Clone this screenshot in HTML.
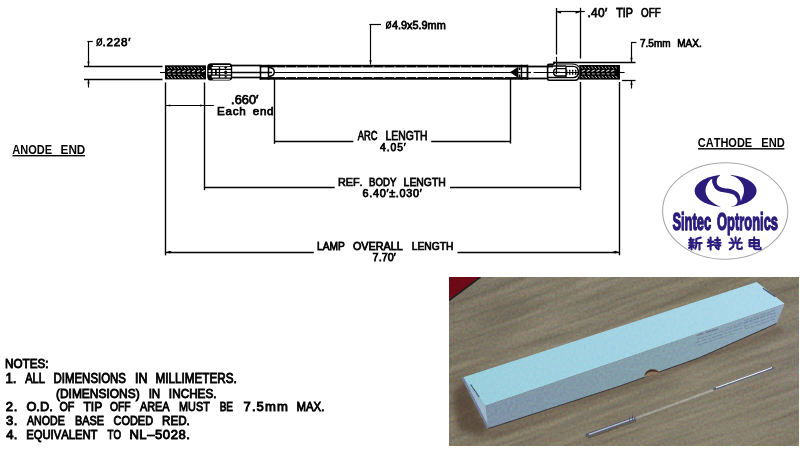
<!DOCTYPE html>
<html><head><meta charset="utf-8"><style>
html,body{margin:0;padding:0;background:#fff;}
body{width:800px;height:449px;overflow:hidden;}
svg{display:block;}
text{font-kerning:none;}
.t,.tb,.tn{font-family:"Liberation Sans",sans-serif;fill:#000;}
.t{stroke:#000;stroke-width:0.75px;}
.tb{font-weight:bold;}
.tn{stroke:#000;stroke-width:0.9px;}
.logo{font-family:"Liberation Sans",sans-serif;font-weight:bold;fill:#2b1b7b;stroke:#2b1b7b;stroke-width:1.4px;stroke-linejoin:round;}
.ar{fill:#000;stroke:none;}
</style></head><body>
<svg width="800" height="449" viewBox="0 0 800 449">
<defs>
<clipPath id="pc"><rect x="449" y="277" width="350" height="169"/></clipPath>

<linearGradient id="wood" gradientUnits="userSpaceOnUse" x1="470" y1="270" x2="560" y2="480">
<stop offset="0" stop-color="#756e61"/><stop offset="0.45" stop-color="#7e7664"/><stop offset="1" stop-color="#817865"/>
</linearGradient>
<radialGradient id="wlight" gradientUnits="userSpaceOnUse" cx="720" cy="420" r="110">
<stop offset="0" stop-color="#8b8676" stop-opacity="0.6"/><stop offset="1" stop-color="#8b8676" stop-opacity="0"/>
</radialGradient>
<radialGradient id="wlight2" gradientUnits="userSpaceOnUse" cx="590" cy="300" r="90">
<stop offset="0" stop-color="#8c8676" stop-opacity="0.6"/><stop offset="1" stop-color="#8c8676" stop-opacity="0"/>
</radialGradient>
<linearGradient id="btop" gradientUnits="userSpaceOnUse" x1="470" y1="390" x2="780" y2="290">
<stop offset="0" stop-color="#9acfdc"/><stop offset="0.5" stop-color="#a2d3e3"/><stop offset="1" stop-color="#aedaea"/>
</linearGradient>
<linearGradient id="bfront" gradientUnits="userSpaceOnUse" x1="490" y1="420" x2="780" y2="315">
<stop offset="0" stop-color="#7e92a6"/><stop offset="0.55" stop-color="#84a0aa"/><stop offset="1" stop-color="#8ea8bc"/>
</linearGradient>
<radialGradient id="wright" gradientUnits="userSpaceOnUse" cx="805" cy="360" r="90">
<stop offset="0" stop-color="#827a70" stop-opacity="0.85"/><stop offset="1" stop-color="#827a70" stop-opacity="0"/>
</radialGradient>
<filter id="noise2" x="0" y="0" width="100%" height="100%" color-interpolation-filters="sRGB">
<feTurbulence type="fractalNoise" baseFrequency="0.38" numOctaves="2" seed="9"/>
<feColorMatrix type="matrix" values="1.3 0 0 0 -0.15  0 1.3 0 0 -0.15  0 0 1.3 0 -0.15  0 0 0 0 1"/>
</filter>
<filter id="grain" x="0" y="0" width="100%" height="100%" color-interpolation-filters="sRGB">
<feTurbulence type="fractalNoise" baseFrequency="0.012 0.2" numOctaves="3" seed="4"/>
<feColorMatrix type="matrix" values="1.3 0 0 0 -0.15  1.3 0 0 0 -0.15  1.3 0 0 0 -0.15  0 0 0 0 1"/>
</filter>
<filter id="bl"><feGaussianBlur stdDeviation="3"/></filter>
<filter id="bl1"><feGaussianBlur stdDeviation="0.6"/></filter>
<filter id="bl2"><feGaussianBlur stdDeviation="1.2"/></filter>

</defs>
<g opacity="0.999">
<g class="dw" stroke="#000" fill="none" stroke-linecap="butt">
<line x1="88.5" y1="41.5" x2="88.5" y2="66" stroke-width="1.2" />
<line x1="87.4" y1="41.5" x2="92.8" y2="41.5" stroke-width="1.2" />
<line x1="88.5" y1="79" x2="88.5" y2="87.5" stroke-width="1.2" />
<line x1="84" y1="66.5" x2="162.5" y2="66.5" stroke-width="1.3" />
<line x1="84" y1="79.5" x2="162.5" y2="79.5" stroke-width="1.3" />
<line x1="160" y1="72.5" x2="165" y2="72.5" stroke-width="1.1" />
<line x1="370.5" y1="24" x2="370.5" y2="64.5" stroke-width="1.2" />
<line x1="369.4" y1="24.5" x2="381" y2="24.5" stroke-width="1.2" />
<rect x="259.8" y="64.8" width="268.2" height="2.6" fill="#000" stroke="none"/>
<rect x="259.8" y="77.1" width="268.2" height="2.6" fill="#000" stroke="none"/>
<line x1="275" y1="72.5" x2="510" y2="72.5" stroke-width="1.1" />
<path d="M285,66.6 h1.2 v1 h-1.2 Z M285,77 h1.2 v1 h-1.2 Z M295.93,66.6 h1.2 v1 h-1.2 Z M295.93,77 h1.2 v1 h-1.2 Z M306.86,66.6 h1.2 v1 h-1.2 Z M306.86,77 h1.2 v1 h-1.2 Z M317.79,66.6 h1.2 v1 h-1.2 Z M317.79,77 h1.2 v1 h-1.2 Z M328.72,66.6 h1.2 v1 h-1.2 Z M328.72,77 h1.2 v1 h-1.2 Z M339.65,66.6 h1.2 v1 h-1.2 Z M339.65,77 h1.2 v1 h-1.2 Z M350.58,66.6 h1.2 v1 h-1.2 Z M350.58,77 h1.2 v1 h-1.2 Z M361.51,66.6 h1.2 v1 h-1.2 Z M361.51,77 h1.2 v1 h-1.2 Z M372.44,66.6 h1.2 v1 h-1.2 Z M372.44,77 h1.2 v1 h-1.2 Z M383.37,66.6 h1.2 v1 h-1.2 Z M383.37,77 h1.2 v1 h-1.2 Z M394.3,66.6 h1.2 v1 h-1.2 Z M394.3,77 h1.2 v1 h-1.2 Z M405.23,66.6 h1.2 v1 h-1.2 Z M405.23,77 h1.2 v1 h-1.2 Z M416.16,66.6 h1.2 v1 h-1.2 Z M416.16,77 h1.2 v1 h-1.2 Z M427.09,66.6 h1.2 v1 h-1.2 Z M427.09,77 h1.2 v1 h-1.2 Z M438.02,66.6 h1.2 v1 h-1.2 Z M438.02,77 h1.2 v1 h-1.2 Z M448.95,66.6 h1.2 v1 h-1.2 Z M448.95,77 h1.2 v1 h-1.2 Z M459.88,66.6 h1.2 v1 h-1.2 Z M459.88,77 h1.2 v1 h-1.2 Z M470.81,66.6 h1.2 v1 h-1.2 Z M470.81,77 h1.2 v1 h-1.2 Z M481.74,66.6 h1.2 v1 h-1.2 Z M481.74,77 h1.2 v1 h-1.2 Z M492.67,66.6 h1.2 v1 h-1.2 Z M492.67,77 h1.2 v1 h-1.2 Z M503.6,66.6 h1.2 v1 h-1.2 Z M503.6,77 h1.2 v1 h-1.2 Z" fill="#fff" stroke="none"/>
<line x1="232" y1="65.5" x2="260" y2="65.5" stroke-width="1.7" />
<line x1="232" y1="72.5" x2="272" y2="72.5" stroke-width="1.3" />
<line x1="232" y1="77.5" x2="260" y2="77.5" stroke-width="1.7" />
<line x1="260.5" y1="64.8" x2="260.5" y2="79.7" stroke-width="1.6" />
<line x1="268.5" y1="64.8" x2="268.5" y2="79.7" stroke-width="1.5" />
<path d="M268.4,67.6 C272.3,67.6 274.3,69.6 274.3,72.1 C274.3,74.6 272.3,76.4 268.4,76.4" stroke-width="1.5"/>
<path d="M275.2,67.4 L277.5,67.4 L276,69 Z M275.2,77.1 L277.5,77.1 L276,75.6 Z" fill="#fff" stroke="none"/>
<path d="M510,72.3 L518.4,66.8 L518.4,77.9 Z" fill="#000" stroke="none"/>
<path d="M519.6,67.6 v2.4 M519.6,74.4 v2.6" stroke-width="1.6"/>
<line x1="521.5" y1="64.8" x2="521.5" y2="79.7" stroke-width="1.4" />
<line x1="527.5" y1="64.8" x2="527.5" y2="79.7" stroke-width="1.8" />
<line x1="510" y1="72.5" x2="531" y2="72.5" stroke-width="1.2" />
<line x1="527.5" y1="66.5" x2="553" y2="66.5" stroke-width="1.8" />
<line x1="533.5" y1="72.5" x2="578" y2="72.5" stroke-width="1.2" />
<line x1="527.5" y1="78.5" x2="548" y2="78.5" stroke-width="1.8" />
<line x1="553" y1="62.5" x2="635.5" y2="62.5" stroke-width="1.3" />
<line x1="622" y1="80.5" x2="635.5" y2="80.5" stroke-width="1.3" />
<line x1="631.5" y1="42.6" x2="631.5" y2="62.2" stroke-width="1.2" />
<line x1="631" y1="42.5" x2="636.4" y2="42.5" stroke-width="1.2" />
<line x1="631.5" y1="80.3" x2="631.5" y2="88.5" stroke-width="1.2" />
</g>
<rect x="165" y="65.3" width="41" height="14.1" fill="#000"/>
<path d="M167,67.2l1.7,1.5M170.4,67.2l1.7,1.5M173.8,67.2l1.7,1.5M177.2,67.2l1.7,1.5M180.6,67.2l1.7,1.5M184,67.2l1.7,1.5M187.4,67.2l1.7,1.5M190.8,67.2l1.7,1.5M194.2,67.2l1.7,1.5M197.6,67.2l1.7,1.5M201,67.2l1.7,1.5M167,76.4l2.2,1.7M170.4,76.4l2.2,1.7M173.8,76.4l2.2,1.7M177.2,76.4l2.2,1.7M180.6,76.4l2.2,1.7M184,76.4l2.2,1.7M187.4,76.4l2.2,1.7M190.8,76.4l2.2,1.7M194.2,76.4l2.2,1.7M197.6,76.4l2.2,1.7M201,76.4l2.2,1.7" stroke="#fff" stroke-width="0.9" stroke-opacity="0.9" fill="none"/>
<path d="M167.6,71.8l3,-1.4M172.5,71.8l3,-1.4M177.4,71.8l3,-1.4M182.3,71.8l3,-1.4M187.2,71.8l3,-1.4M192.1,71.8l3,-1.4M197,71.8l3,-1.4M201.9,71.8l3,-1.4" stroke="#fff" stroke-width="1.1" stroke-opacity="0.9" fill="none"/>
<path d="M168,74.2h2.8M172.9,74.2h2.8M177.8,74.2h2.8M182.7,74.2h2.8M187.6,74.2h2.8M192.5,74.2h2.8M197.4,74.2h2.8" stroke="#fff" stroke-width="1.0" stroke-opacity="0.75" fill="none"/>
<rect x="579.2" y="65" width="40.8" height="14.6" fill="#000"/>
<path d="M581.2,66.9l1.7,1.5M584.6,66.9l1.7,1.5M588,66.9l1.7,1.5M591.4,66.9l1.7,1.5M594.8,66.9l1.7,1.5M598.2,66.9l1.7,1.5M601.6,66.9l1.7,1.5M605,66.9l1.7,1.5M608.4,66.9l1.7,1.5M611.8,66.9l1.7,1.5M615.2,66.9l1.7,1.5M581.2,76.1l2.2,1.7M584.6,76.1l2.2,1.7M588,76.1l2.2,1.7M591.4,76.1l2.2,1.7M594.8,76.1l2.2,1.7M598.2,76.1l2.2,1.7M601.6,76.1l2.2,1.7M605,76.1l2.2,1.7M608.4,76.1l2.2,1.7M611.8,76.1l2.2,1.7M615.2,76.1l2.2,1.7" stroke="#fff" stroke-width="0.9" stroke-opacity="0.9" fill="none"/>
<path d="M581.8,71.5l3,-1.4M586.7,71.5l3,-1.4M591.6,71.5l3,-1.4M596.5,71.5l3,-1.4M601.4,71.5l3,-1.4M606.3,71.5l3,-1.4M611.2,71.5l3,-1.4" stroke="#fff" stroke-width="1.1" stroke-opacity="0.9" fill="none"/>
<path d="M582.2,73.9h2.8M587.1,73.9h2.8M592,73.9h2.8M596.9,73.9h2.8M601.8,73.9h2.8M606.7,73.9h2.8M611.6,73.9h2.8" stroke="#fff" stroke-width="1.0" stroke-opacity="0.75" fill="none"/>
<g stroke="#000" fill="none">
<line x1="620" y1="72.5" x2="624.6" y2="72.5" stroke-width="1.1" />
</g>
<path d="M211.4,63.3 L229,63.3 Q232.2,63.3 232.2,66.5 L232.2,77.3 Q232.2,80.6 229,80.6 L211.4,80.6 Q207.2,80.6 207.2,76.4 L207.2,67.5 Q207.2,63.3 211.4,63.3 Z" fill="#000"/>
<path d="M212.8,64.9H229.9V66.2H212.8ZM212.8,78.7H229.9V79.8H212.8ZM211.7,67.1H218.8V68.7H211.7ZM220.1,67.1H230.8V68.7H220.1ZM211.7,75.8H218.8V77.4H211.7ZM220.1,75.8H230.8V77.4H220.1ZM208.6,70H210.8V72H208.6ZM208.6,72.9H210.8V74.5H208.6ZM212.6,70H215V72H212.6ZM212.6,72.9H215V74.5H212.6ZM216.8,70H218.8V72H216.8ZM216.8,72.9H218.8V74.5H216.8ZM220.1,70H230.8V72H220.1ZM220.1,72.9H230.8V74.5H220.1Z" fill="#fff"/>
<path d="M223.9,67.1 L227.5,67.1 L225.7,69 Z M223.9,72 L227.5,72 L225.7,70.3 Z M223.9,72.9 L227.5,72.9 L225.7,74.6 Z M223.9,77.4 L227.5,77.4 L225.7,75.6 Z" fill="#000"/>
<g fill="none" stroke="#000">
<path d="M555.4,62.1 L553.3,64.2 L549,64.2 Q547.6,64.2 547.6,65.8 L547.6,78.8 Q547.6,80.3 549.2,80.3 L575,80.3 Q578.6,80.3 578.8,76.5" stroke-width="1.6"/>
<path d="M556,64 L572,64 Q577.6,64.2 578.8,67.2" stroke-width="1.2"/>
<path d="M547.6,65.9 L566,65.9 M547.6,77.6 L566,77.6" stroke-width="1.5"/>
<path d="M566,68.6 L557.2,68.6 Q553.6,68.6 553.6,72.3 Q553.6,76 557.2,76 L566,76" stroke-width="1.4"/>
<path d="M566,66.4 L573,66.4 Q578.3,66.4 578.3,72 Q578.3,77.6 573,77.6 L566,77.6 M566,66.4 V77.6" stroke-width="1.4"/>
<path d="M566,70.7 H579 M566,73.9 H579" stroke-width="1.9" stroke-dasharray="1.4,1.6"/>
<path d="M556.4,70.6 V74.2 M554.8,72.3 H560" stroke-width="1.2"/>
</g>
<g>
</g>
<g stroke="#000" fill="none">
<line x1="556.5" y1="8" x2="556.5" y2="54.5" stroke-width="1.3" />
<line x1="556.5" y1="56.8" x2="556.5" y2="71" stroke-width="1.2" />
<line x1="580.5" y1="7.8" x2="580.5" y2="58.5" stroke-width="1.3" />
<line x1="556.3" y1="11.5" x2="584.8" y2="11.5" stroke-width="1.2" />
<line x1="165.5" y1="82.5" x2="165.5" y2="255.4" stroke-width="1.4" />
<line x1="204.5" y1="82.5" x2="204.5" y2="190.2" stroke-width="1.4" />
<line x1="165.8" y1="105.5" x2="213.8" y2="105.5" stroke-width="1.2" />
<line x1="274.5" y1="79" x2="274.5" y2="143.8" stroke-width="1.4" />
<line x1="510.5" y1="79" x2="510.5" y2="143.6" stroke-width="1.4" />
<line x1="274.8" y1="141.5" x2="353.4" y2="141.5" stroke-width="1.6" />
<line x1="431.2" y1="141.5" x2="510" y2="141.5" stroke-width="1.6" />
<line x1="580.5" y1="82" x2="580.5" y2="190.2" stroke-width="1.4" />
<line x1="204.6" y1="187.5" x2="334.7" y2="187.5" stroke-width="1.7" />
<line x1="450" y1="187.5" x2="580" y2="187.5" stroke-width="1.7" />
<line x1="619.5" y1="82" x2="619.5" y2="255.3" stroke-width="1.4" />
<line x1="165.8" y1="252.5" x2="313.8" y2="252.5" stroke-width="1.6" />
<line x1="457.5" y1="252.5" x2="619.4" y2="252.5" stroke-width="1.6" />
</g>
<path class="ar" d="M88.5,66 L87.4,61.5 L89.6,61.5 Z"/>
<path class="ar" d="M88.5,79 L89.6,83.5 L87.4,83.5 Z"/>
<path class="ar" d="M370.5,64.8 L369.4,60.3 L371.6,60.3 Z"/>
<path class="ar" d="M631.5,62.2 L630.4,57.7 L632.6,57.7 Z"/>
<path class="ar" d="M631.5,80.3 L632.6,84.8 L630.4,84.8 Z"/>
<path class="ar" d="M556.6,12.5 L561.1,11.4 L561.1,13.6 Z"/>
<path class="ar" d="M580,12.5 L575.5,13.6 L575.5,11.4 Z"/>
<path class="ar" d="M165.8,105.5 L170.3,104.4 L170.3,106.6 Z"/>
<path class="ar" d="M204.6,105.5 L200.1,106.6 L200.1,104.4 Z"/>
<path d="M166.8,252.1 L169.6,250.8 L172.2,252.1 L169.6,253.4 Z M618.4,252.1 L615.4,250.8 L612.6,252.1 L615.4,253.4 Z" fill="#000"/>
<ellipse cx="99.3" cy="42.1" rx="2.3" ry="3.2" fill="none" stroke="#000" stroke-width="1.3"/>
<line x1="96.5" y1="46.2" x2="102.1" y2="38" stroke="#000" stroke-width="1.2"/>
<text class="t" x="102.41" y="46" style="font-size:11.63px;letter-spacing:0.805px">.228′</text>
<ellipse cx="388.55" cy="24.95" rx="2.05" ry="3.05" fill="none" stroke="#000" stroke-width="1.3"/>
<line x1="386" y1="28.9" x2="391.1" y2="21" stroke="#000" stroke-width="1.2"/>
<text class="t" transform="translate(391.93,28.7) scale(0.9849,1)" style="font-size:11.05px">4.9x5.9mm</text>
<text class="t" x="587.39" y="16.6" style="font-size:11.92px;letter-spacing:0.354px">.40′</text>
<text class="t" transform="translate(616.23,16.6) scale(0.9011,1)" style="font-size:11.92px">TIP</text>
<text class="t" transform="translate(641.11,16.6) scale(0.8249,1)" style="font-size:11.92px">OFF</text>
<text class="t" transform="translate(640.06,46.8) scale(0.8779,1)" style="font-size:11.34px">7.5mm</text>
<text class="t" transform="translate(677.25,46.8) scale(0.8854,1)" style="font-size:11.34px">MAX.</text>
<text class="t" x="231.11" y="104" style="font-size:12.79px;letter-spacing:0.017px">.660′</text>
<text class="t" x="217.12" y="115" style="font-size:11.63px;letter-spacing:0.719px">Each</text>
<text class="t" x="252.78" y="115" style="font-size:11.63px;letter-spacing:0.696px">end</text>
<text class="t" transform="translate(357.66,139.7) scale(0.7691,1)" style="font-size:12.21px">ARC</text>
<text class="t" transform="translate(385.42,139.7) scale(0.8532,1)" style="font-size:12.21px">LENGTH</text>
<text class="t" x="379.94" y="151" style="font-size:10.32px;letter-spacing:0.966px">4.05′</text>
<text class="t" transform="translate(337.89,185.6) scale(0.9474,1)" style="font-size:11.41px">REF.</text>
<text class="t" transform="translate(368.98,185.6) scale(0.8492,1)" style="font-size:11.41px">BODY</text>
<text class="t" transform="translate(403.62,185.6) scale(0.9108,1)" style="font-size:11.41px">LENGTH</text>
<text class="t" x="362.62" y="196.9" style="font-size:10.9px;letter-spacing:0.661px">6.40′±.030′</text>
<text class="t" transform="translate(317.04,249.6) scale(0.9374,1)" style="font-size:10.9px">LAMP</text>
<text class="t" transform="translate(352.96,249.6) scale(0.9907,1)" style="font-size:10.9px">OVERALL</text>
<text class="t" transform="translate(411.73,249.6) scale(0.9415,1)" style="font-size:10.9px">LENGTH</text>
<text class="t" x="372.62" y="261.4" style="font-size:10.76px;letter-spacing:0.064px">7.70′</text>
<text class="tb" transform="translate(12.32,154.4) scale(0.8639,1)" style="font-size:12.79px">ANODE</text>
<text class="tb" transform="translate(60.56,154.4) scale(0.9195,1)" style="font-size:12.79px">END</text>
<rect x="12.5" y="155" width="72.5" height="1.4" fill="#000"/>
<text class="tb" transform="translate(697.75,146.9) scale(0.9025,1)" style="font-size:12.21px">CATHODE</text>
<text class="tb" transform="translate(761.26,146.9) scale(0.9121,1)" style="font-size:12.21px">END</text>
<rect x="698" y="148.1" width="86.4" height="1.4" fill="#000"/>
<text class="tn" transform="translate(5.09,368) scale(0.9354,1)" style="font-size:12.5px">NOTES:</text>
<text class="tn" transform="translate(5.44,382.5) scale(0.9616,1)" style="font-size:13.81px">1.</text>
<text class="tn" transform="translate(25.18,382.5) scale(0.8035,1)" style="font-size:13.81px">ALL</text>
<text class="tn" transform="translate(53.51,382.5) scale(0.8297,1)" style="font-size:13.81px">DIMENSIONS</text>
<text class="tn" transform="translate(135.04,382.5) scale(0.9073,1)" style="font-size:13.81px">IN</text>
<text class="tn" transform="translate(155.49,382.5) scale(0.8485,1)" style="font-size:13.81px">MILLIMETERS.</text>
<text class="tn" transform="translate(55.96,397.75) scale(0.9155,1)" style="font-size:13.08px">(DIMENSIONS)</text>
<text class="tn" transform="translate(148.63,397.75) scale(0.8883,1)" style="font-size:13.08px">IN</text>
<text class="tn" transform="translate(168.86,397.75) scale(0.9001,1)" style="font-size:13.08px">INCHES.</text>
<text class="tn" x="5.79" y="411.25" style="font-size:13.08px;letter-spacing:0.643px">2.</text>
<text class="tn" transform="translate(26.44,411.25) scale(0.9770,1)" style="font-size:13.08px">O.D.</text>
<text class="tn" transform="translate(59.44,411.25) scale(0.8224,1)" style="font-size:13.08px">OF</text>
<text class="tn" transform="translate(83.48,411.25) scale(0.9191,1)" style="font-size:13.08px">TIP</text>
<text class="tn" transform="translate(109.96,411.25) scale(0.7916,1)" style="font-size:13.08px">OFF</text>
<text class="tn" transform="translate(139.93,411.25) scale(0.8321,1)" style="font-size:13.08px">AREA</text>
<text class="tn" transform="translate(179.06,411.25) scale(0.8294,1)" style="font-size:13.08px">MUST</text>
<text class="tn" transform="translate(219.63,411.25) scale(0.7651,1)" style="font-size:13.08px">BE</text>
<text class="tn" x="243.53" y="411.25" style="font-size:13.08px;letter-spacing:1.101px">7.5mm</text>
<text class="tn" transform="translate(296.52,411.25) scale(0.8700,1)" style="font-size:13.08px">MAX.</text>
<text class="tn" x="5.95" y="425.2" style="font-size:13.08px;letter-spacing:0.483px">3.</text>
<text class="tn" transform="translate(27.03,425.2) scale(0.8121,1)" style="font-size:13.08px">ANODE</text>
<text class="tn" transform="translate(74.95,425.2) scale(0.8357,1)" style="font-size:13.08px">BASE</text>
<text class="tn" transform="translate(113.59,425.2) scale(0.8357,1)" style="font-size:13.08px">CODED</text>
<text class="tn" transform="translate(162.1,425.2) scale(0.8884,1)" style="font-size:13.08px">RED.</text>
<text class="tn" x="6.15" y="438.7" style="font-size:13.08px;letter-spacing:0.285px">4.</text>
<text class="tn" transform="translate(26.13,438.7) scale(0.8614,1)" style="font-size:13.08px">EQUIVALENT</text>
<text class="tn" transform="translate(107.53,438.7) scale(0.7480,1)" style="font-size:13.08px">TO</text>
<text class="tn" x="129.38" y="438.7" style="font-size:13.08px;letter-spacing:0.555px">NL–5028.</text>
<ellipse cx="725.2" cy="211" rx="62.6" ry="48.2" fill="none" stroke="#a9a9a9" stroke-width="1.1"/>
<ellipse cx="725.6" cy="190.9" rx="31.0" ry="16.1" fill="#2b1b7b"/>
<path d="M719.8,173.6 L720.06,175.23 C719.63,175.68 718.07,176.93 717.5,177.95 C716.93,178.97 716.66,180.22 716.66,181.35 C716.66,182.48 716.79,183.77 717.5,184.76 C718.21,185.75 719.48,186.66 720.9,187.3 C722.32,187.94 724.15,188.25 726,188.6 C727.85,188.95 730.12,188.87 731.97,189.43 C733.82,189.99 735.8,190.99 737.07,191.98 C738.35,192.97 739.05,194.17 739.62,195.38 C740.19,196.59 740.26,198.22 740.47,199.21 C740.68,200.2 740.83,200.99 740.9,201.34 C741.11,200.7 741.67,199 742.17,197.51 C742.66,196.02 743.66,194.25 743.87,192.41 C744.08,190.57 744.02,188.3 743.45,186.46 C742.88,184.62 741.68,182.84 740.47,181.35 C739.26,179.86 737.85,178.55 736.22,177.53 C734.59,176.51 731.61,175.61 730.69,175.23 L731,173.6 Z" fill="#fff"/>
<path d="M720.8,208.2 L720.49,206.86 C719.43,206.29 716.02,204.74 714.11,203.46 C712.2,202.19 710.35,200.77 709,199.21 C707.65,197.65 706.6,195.81 706.03,194.11 C705.46,192.41 705.39,190.7 705.6,189 C705.81,187.3 706.52,185.39 707.3,183.9 C708.08,182.41 709.46,180.9 710.28,180.08 C711.1,179.26 711.91,179.16 712.24,178.97 C712.27,179.65 711.96,181.52 712.41,183.05 C712.86,184.58 713.83,186.81 714.96,188.16 C716.09,189.51 717.51,190.42 719.21,191.13 C720.91,191.84 723.32,192.03 725.16,192.41 C727,192.79 728.71,192.94 730.27,193.43 C731.83,193.93 733.46,194.56 734.52,195.38 C735.58,196.2 736.14,197.3 736.64,198.36 C737.13,199.42 737.63,200.7 737.49,201.76 C737.35,202.82 736.85,203.89 735.79,204.74 C734.73,205.59 731.9,206.51 731.12,206.86 L731.4,208.2 Z" fill="#fff"/>
<text class="logo" transform="translate(672.43,230) scale(0.5384,1)" style="font-size:23.98px">Sintec</text>
<text class="logo" transform="translate(717.07,230) scale(0.5382,1)" style="font-size:23.98px">Optronics</text>
<g fill="none" stroke="#2b1b7b" stroke-width="2.1" stroke-linecap="round" stroke-linejoin="round"><polyline points="690.8,238.1 690.8,238.8"/><polyline points="689.3,239.8 693.8,239.8"/><polyline points="690.1,240.8 690.9,242.2"/><polyline points="692.7,240.8 692.1,242.2"/><polyline points="689.1,242.8 694.1,242.8"/><polyline points="691.5,242.8 691.5,249.4"/><polyline points="689.3,245.2 693.9,245.2"/><polyline points="691.5,245.6 689.1,248"/><polyline points="691.7,246 693.7,247.4"/><polyline points="700.8,237.6 696.3,239 696.3,245.2 695.3,248.8"/><polyline points="696.3,243 701.7,243"/><polyline points="699.5,243 699.5,249.6"/><polyline points="708.4,239.6 709.2,241.2"/><polyline points="710.6,237.6 710.6,249.6"/><polyline points="707.8,242.6 713.2,241.6"/><polyline points="707.8,246.2 713.2,244.8"/><polyline points="715,240 720,240"/><polyline points="717.5,237.6 717.5,242.6"/><polyline points="714.4,242.8 720.6,242.8"/><polyline points="714.8,245.4 720.4,245.4"/><polyline points="718.6,244 718.6,249.2 717.4,248.8"/><polyline points="715.8,246.8 716.6,248"/><polyline points="735.6,237.4 735.6,242"/><polyline points="731.2,238.6 732.8,241"/><polyline points="740,238.4 738.2,241"/><polyline points="729.4,242.8 741.8,242.8"/><polyline points="733.8,242.8 733.2,246.6 729.8,249.4"/><polyline points="737.4,242.8 737.4,248.2 738.6,249 741.8,248.8 741.8,247.4"/><polyline points="749.6,240 749.6,246.2"/><polyline points="749.6,240 758.8,240 758.8,246.2"/><polyline points="749.6,243.1 758.8,243.1"/><polyline points="749.6,246.2 758.8,246.2"/><polyline points="754.2,237.4 754.2,248.2 755.4,249.2 760.6,249.2 760.6,247.8"/></g>
<g clip-path="url(#pc)">
<rect x="449" y="277" width="350" height="169" fill="url(#wood)"/>
<rect x="449" y="277" width="350" height="169" fill="url(#wlight)"/>
<rect x="449" y="277" width="350" height="169" fill="url(#wlight2)"/>
<rect x="449" y="277" width="350" height="169" fill="url(#wright)"/>
<g transform="rotate(-19 620 360)"><rect x="380" y="160" width="480" height="400" filter="url(#grain)" style="mix-blend-mode:overlay" opacity="0.13"/></g>
<g filter="url(#bl2)"><line x1="559.05" y1="425.54" x2="662.6" y2="387.9" stroke="#8c8c84" stroke-width="4.07" stroke-opacity="0.19" stroke-linecap="round"/><line x1="713.72" y1="403.7" x2="790.9" y2="373.49" stroke="#746e62" stroke-width="2.41" stroke-opacity="0.17" stroke-linecap="round"/><line x1="716.24" y1="460.29" x2="744.8" y2="451.39" stroke="#746e62" stroke-width="3.46" stroke-opacity="0.27" stroke-linecap="round"/><line x1="429.3" y1="283.9" x2="499.21" y2="255.65" stroke="#686456" stroke-width="4.14" stroke-opacity="0.27" stroke-linecap="round"/><line x1="702.37" y1="364.84" x2="777.6" y2="335.46" stroke="#686456" stroke-width="3.42" stroke-opacity="0.25" stroke-linecap="round"/><line x1="651.48" y1="398.91" x2="700.12" y2="383.81" stroke="#9a9078" stroke-width="3.62" stroke-opacity="0.21" stroke-linecap="round"/><line x1="461.05" y1="355.15" x2="492.02" y2="344.83" stroke="#746e62" stroke-width="1.82" stroke-opacity="0.21" stroke-linecap="round"/><line x1="389.4" y1="284.39" x2="472.62" y2="252.05" stroke="#9a9078" stroke-width="2.91" stroke-opacity="0.35" stroke-linecap="round"/><line x1="534.87" y1="298.99" x2="613.37" y2="272.92" stroke="#a29a86" stroke-width="2.51" stroke-opacity="0.21" stroke-linecap="round"/><line x1="366.67" y1="386.61" x2="470.11" y2="345.59" stroke="#86765e" stroke-width="1.8" stroke-opacity="0.16" stroke-linecap="round"/><line x1="710.69" y1="326.2" x2="783.23" y2="299.7" stroke="#686456" stroke-width="4.46" stroke-opacity="0.3" stroke-linecap="round"/><line x1="544.46" y1="379.78" x2="603.02" y2="361.56" stroke="#9a9078" stroke-width="2.31" stroke-opacity="0.34" stroke-linecap="round"/><line x1="713.5" y1="359.08" x2="813.71" y2="320.1" stroke="#746e62" stroke-width="4.49" stroke-opacity="0.27" stroke-linecap="round"/><line x1="613.86" y1="290.95" x2="651.3" y2="277.25" stroke="#9a9078" stroke-width="3.82" stroke-opacity="0.22" stroke-linecap="round"/><line x1="490.38" y1="299.08" x2="523.04" y2="287.6" stroke="#686456" stroke-width="1.55" stroke-opacity="0.22" stroke-linecap="round"/><line x1="633.75" y1="313.08" x2="708.66" y2="288.6" stroke="#686456" stroke-width="4.1" stroke-opacity="0.19" stroke-linecap="round"/><line x1="427.82" y1="516.19" x2="522.33" y2="479.8" stroke="#686456" stroke-width="1.98" stroke-opacity="0.28" stroke-linecap="round"/><line x1="603.73" y1="458.61" x2="661.73" y2="437.63" stroke="#9a9078" stroke-width="2.76" stroke-opacity="0.17" stroke-linecap="round"/><line x1="377.03" y1="530.3" x2="422.29" y2="514.93" stroke="#a29a86" stroke-width="2.76" stroke-opacity="0.33" stroke-linecap="round"/><line x1="576.04" y1="415.22" x2="680.02" y2="382.75" stroke="#686456" stroke-width="2.19" stroke-opacity="0.26" stroke-linecap="round"/><line x1="735.06" y1="439.72" x2="783.87" y2="424.18" stroke="#686456" stroke-width="3.75" stroke-opacity="0.16" stroke-linecap="round"/><line x1="541.03" y1="344.76" x2="569.99" y2="333.7" stroke="#8c8c84" stroke-width="3.22" stroke-opacity="0.18" stroke-linecap="round"/><line x1="519.34" y1="511.64" x2="627.69" y2="474.34" stroke="#86765e" stroke-width="3.07" stroke-opacity="0.34" stroke-linecap="round"/><line x1="619.55" y1="520.13" x2="684.9" y2="495.67" stroke="#a29a86" stroke-width="4.39" stroke-opacity="0.15" stroke-linecap="round"/><line x1="639.92" y1="405.38" x2="727.01" y2="372.45" stroke="#9a9078" stroke-width="1.73" stroke-opacity="0.26" stroke-linecap="round"/><line x1="684.28" y1="514.05" x2="771.93" y2="484.28" stroke="#a29a86" stroke-width="2.56" stroke-opacity="0.29" stroke-linecap="round"/><line x1="756.37" y1="506.49" x2="816.83" y2="486.48" stroke="#746e62" stroke-width="3.22" stroke-opacity="0.27" stroke-linecap="round"/><line x1="528.23" y1="431.5" x2="604.98" y2="400.64" stroke="#86765e" stroke-width="1.85" stroke-opacity="0.2" stroke-linecap="round"/><line x1="543.15" y1="365.84" x2="647.56" y2="330.28" stroke="#746e62" stroke-width="2.82" stroke-opacity="0.32" stroke-linecap="round"/><line x1="396.86" y1="475.05" x2="424.4" y2="465.42" stroke="#746e62" stroke-width="1.57" stroke-opacity="0.34" stroke-linecap="round"/><line x1="409.67" y1="482.79" x2="490.78" y2="453.47" stroke="#9a9078" stroke-width="2.6" stroke-opacity="0.18" stroke-linecap="round"/><line x1="629.17" y1="414.78" x2="718.24" y2="381.31" stroke="#746e62" stroke-width="2.99" stroke-opacity="0.2" stroke-linecap="round"/><line x1="538.09" y1="345.16" x2="617" y2="319.15" stroke="#686456" stroke-width="4.14" stroke-opacity="0.23" stroke-linecap="round"/><line x1="616.57" y1="362.29" x2="653.14" y2="349.11" stroke="#9a9078" stroke-width="3.63" stroke-opacity="0.34" stroke-linecap="round"/><line x1="481.79" y1="323.97" x2="545.1" y2="299.76" stroke="#686456" stroke-width="3.99" stroke-opacity="0.23" stroke-linecap="round"/><line x1="588.79" y1="454.76" x2="674.67" y2="426.78" stroke="#8c8c84" stroke-width="2.86" stroke-opacity="0.16" stroke-linecap="round"/><line x1="373.85" y1="506.94" x2="402.38" y2="497.26" stroke="#8c8c84" stroke-width="2.56" stroke-opacity="0.28" stroke-linecap="round"/><line x1="608.18" y1="446.66" x2="667.62" y2="423.41" stroke="#a29a86" stroke-width="2.21" stroke-opacity="0.18" stroke-linecap="round"/><line x1="380.65" y1="443.59" x2="443.61" y2="421.74" stroke="#86765e" stroke-width="3.42" stroke-opacity="0.22" stroke-linecap="round"/><line x1="394.31" y1="331.49" x2="489.33" y2="294.97" stroke="#86765e" stroke-width="1.53" stroke-opacity="0.24" stroke-linecap="round"/><line x1="674.24" y1="326.57" x2="722.39" y2="308.49" stroke="#86765e" stroke-width="4.34" stroke-opacity="0.25" stroke-linecap="round"/><line x1="798.6" y1="321.39" x2="895.74" y2="288.36" stroke="#686456" stroke-width="1.76" stroke-opacity="0.34" stroke-linecap="round"/><line x1="677.85" y1="313.78" x2="741.4" y2="291.7" stroke="#9a9078" stroke-width="2.63" stroke-opacity="0.26" stroke-linecap="round"/><line x1="746.9" y1="487.16" x2="852.16" y2="448.88" stroke="#86765e" stroke-width="4.45" stroke-opacity="0.17" stroke-linecap="round"/><line x1="741.11" y1="487.56" x2="844.67" y2="446.38" stroke="#686456" stroke-width="4.2" stroke-opacity="0.35" stroke-linecap="round"/><line x1="790.04" y1="419.61" x2="882.25" y2="384.75" stroke="#86765e" stroke-width="4.07" stroke-opacity="0.22" stroke-linecap="round"/><line x1="396.42" y1="394.63" x2="468.2" y2="370.72" stroke="#746e62" stroke-width="4.26" stroke-opacity="0.19" stroke-linecap="round"/><line x1="741.72" y1="391.52" x2="769.71" y2="381.54" stroke="#86765e" stroke-width="3.86" stroke-opacity="0.18" stroke-linecap="round"/><line x1="425.42" y1="414.3" x2="511.92" y2="386.1" stroke="#86765e" stroke-width="2.82" stroke-opacity="0.33" stroke-linecap="round"/><line x1="614.74" y1="459.16" x2="704.15" y2="426.42" stroke="#8c8c84" stroke-width="2.37" stroke-opacity="0.3" stroke-linecap="round"/><line x1="641.1" y1="415.92" x2="737.81" y2="381.69" stroke="#a29a86" stroke-width="3.51" stroke-opacity="0.34" stroke-linecap="round"/><line x1="742.83" y1="438.45" x2="793.71" y2="418.31" stroke="#8c8c84" stroke-width="3.07" stroke-opacity="0.26" stroke-linecap="round"/><line x1="448.43" y1="419.33" x2="516.2" y2="395.65" stroke="#9a9078" stroke-width="3.11" stroke-opacity="0.16" stroke-linecap="round"/><line x1="763.64" y1="421.44" x2="872.73" y2="378.04" stroke="#9a9078" stroke-width="3.57" stroke-opacity="0.16" stroke-linecap="round"/><line x1="597.03" y1="387.58" x2="703.37" y2="353.8" stroke="#a29a86" stroke-width="2.24" stroke-opacity="0.25" stroke-linecap="round"/><line x1="509.46" y1="514.23" x2="613.99" y2="480.99" stroke="#8c8c84" stroke-width="2.45" stroke-opacity="0.19" stroke-linecap="round"/><line x1="631.87" y1="520.57" x2="667.88" y2="508.61" stroke="#9a9078" stroke-width="1.61" stroke-opacity="0.18" stroke-linecap="round"/><line x1="365.21" y1="353.86" x2="451.71" y2="320.51" stroke="#746e62" stroke-width="1.81" stroke-opacity="0.3" stroke-linecap="round"/><line x1="414.02" y1="412.72" x2="460.32" y2="394.66" stroke="#8c8c84" stroke-width="4.14" stroke-opacity="0.15" stroke-linecap="round"/><line x1="638.52" y1="494.55" x2="715.87" y2="467" stroke="#86765e" stroke-width="3.1" stroke-opacity="0.19" stroke-linecap="round"/><line x1="455.12" y1="421.16" x2="529.98" y2="391.49" stroke="#86765e" stroke-width="3.38" stroke-opacity="0.22" stroke-linecap="round"/><line x1="439.7" y1="436.81" x2="540.4" y2="397.48" stroke="#686456" stroke-width="4.16" stroke-opacity="0.18" stroke-linecap="round"/><line x1="465.31" y1="468.91" x2="512.37" y2="450.07" stroke="#746e62" stroke-width="3.13" stroke-opacity="0.29" stroke-linecap="round"/><line x1="448.28" y1="443.28" x2="541.19" y2="406.08" stroke="#8c8c84" stroke-width="3.55" stroke-opacity="0.33" stroke-linecap="round"/><line x1="786.09" y1="310.01" x2="854.07" y2="287.29" stroke="#8c8c84" stroke-width="4.5" stroke-opacity="0.32" stroke-linecap="round"/><line x1="713.25" y1="405.34" x2="740.32" y2="396.3" stroke="#8c8c84" stroke-width="3.04" stroke-opacity="0.26" stroke-linecap="round"/><line x1="424.48" y1="327.98" x2="466.82" y2="314.18" stroke="#a29a86" stroke-width="4.28" stroke-opacity="0.17" stroke-linecap="round"/><line x1="387.26" y1="527.39" x2="451.53" y2="505.95" stroke="#a29a86" stroke-width="2.67" stroke-opacity="0.24" stroke-linecap="round"/><line x1="516.01" y1="334.62" x2="572.73" y2="314.96" stroke="#9a9078" stroke-width="4.03" stroke-opacity="0.19" stroke-linecap="round"/><line x1="559.74" y1="472.23" x2="619.19" y2="449.01" stroke="#686456" stroke-width="1.78" stroke-opacity="0.31" stroke-linecap="round"/><line x1="502.43" y1="302.05" x2="598.99" y2="270.92" stroke="#86765e" stroke-width="4.32" stroke-opacity="0.26" stroke-linecap="round"/><line x1="444.02" y1="432" x2="498" y2="413.98" stroke="#a29a86" stroke-width="4.23" stroke-opacity="0.3" stroke-linecap="round"/><line x1="702.31" y1="491.81" x2="761.79" y2="472.75" stroke="#8c8c84" stroke-width="3.58" stroke-opacity="0.3" stroke-linecap="round"/><line x1="696.7" y1="385.49" x2="783.12" y2="350.67" stroke="#a29a86" stroke-width="2.41" stroke-opacity="0.17" stroke-linecap="round"/><line x1="750.74" y1="537.55" x2="852.47" y2="496.35" stroke="#a29a86" stroke-width="4.33" stroke-opacity="0.28" stroke-linecap="round"/><line x1="508.64" y1="451.54" x2="582.05" y2="425.35" stroke="#746e62" stroke-width="3.04" stroke-opacity="0.25" stroke-linecap="round"/><line x1="453.82" y1="311.1" x2="512.42" y2="290.44" stroke="#9a9078" stroke-width="3.35" stroke-opacity="0.3" stroke-linecap="round"/><line x1="472.92" y1="384.4" x2="502.21" y2="372.97" stroke="#746e62" stroke-width="1.53" stroke-opacity="0.2" stroke-linecap="round"/><line x1="481.3" y1="368.62" x2="552.25" y2="342.48" stroke="#8c8c84" stroke-width="3.2" stroke-opacity="0.35" stroke-linecap="round"/><line x1="640.73" y1="490.48" x2="672.2" y2="479.45" stroke="#9a9078" stroke-width="2.66" stroke-opacity="0.34" stroke-linecap="round"/><line x1="529.8" y1="532.22" x2="627.53" y2="497.44" stroke="#8c8c84" stroke-width="1.68" stroke-opacity="0.34" stroke-linecap="round"/><line x1="545.11" y1="416.96" x2="620.93" y2="388.64" stroke="#a29a86" stroke-width="2.95" stroke-opacity="0.2" stroke-linecap="round"/><line x1="768.97" y1="452.53" x2="857.53" y2="416.46" stroke="#686456" stroke-width="3.26" stroke-opacity="0.28" stroke-linecap="round"/><line x1="539.87" y1="457.93" x2="569.36" y2="446.77" stroke="#746e62" stroke-width="1.65" stroke-opacity="0.35" stroke-linecap="round"/><line x1="775.56" y1="299.11" x2="877.53" y2="261.68" stroke="#746e62" stroke-width="2.25" stroke-opacity="0.3" stroke-linecap="round"/><line x1="379.99" y1="305.6" x2="473.86" y2="275.66" stroke="#686456" stroke-width="4.44" stroke-opacity="0.31" stroke-linecap="round"/><line x1="625.59" y1="309.92" x2="703.66" y2="281.48" stroke="#686456" stroke-width="4.08" stroke-opacity="0.22" stroke-linecap="round"/><line x1="428.08" y1="374.46" x2="464.96" y2="360.88" stroke="#8c8c84" stroke-width="2.29" stroke-opacity="0.27" stroke-linecap="round"/><line x1="544.59" y1="482.27" x2="614.71" y2="460.52" stroke="#a29a86" stroke-width="3.7" stroke-opacity="0.2" stroke-linecap="round"/><line x1="410.1" y1="512.1" x2="501.77" y2="480.25" stroke="#a29a86" stroke-width="2.32" stroke-opacity="0.27" stroke-linecap="round"/><line x1="679.03" y1="461.75" x2="720.19" y2="446.02" stroke="#686456" stroke-width="2.07" stroke-opacity="0.2" stroke-linecap="round"/><line x1="791.08" y1="518.09" x2="890.77" y2="477.61" stroke="#9a9078" stroke-width="1.53" stroke-opacity="0.2" stroke-linecap="round"/><line x1="371.84" y1="289.89" x2="415.76" y2="273.11" stroke="#9a9078" stroke-width="4.24" stroke-opacity="0.18" stroke-linecap="round"/><line x1="463.29" y1="535.19" x2="529.43" y2="510.41" stroke="#a29a86" stroke-width="2.53" stroke-opacity="0.3" stroke-linecap="round"/><line x1="728.96" y1="299.33" x2="764.15" y2="287.75" stroke="#8c8c84" stroke-width="4.01" stroke-opacity="0.3" stroke-linecap="round"/><line x1="555.51" y1="474.3" x2="613.67" y2="451.33" stroke="#686456" stroke-width="3.46" stroke-opacity="0.35" stroke-linecap="round"/><line x1="503.17" y1="422.64" x2="591.59" y2="394.53" stroke="#746e62" stroke-width="3.46" stroke-opacity="0.27" stroke-linecap="round"/><line x1="563.29" y1="364.28" x2="634.5" y2="338.16" stroke="#8c8c84" stroke-width="2.95" stroke-opacity="0.29" stroke-linecap="round"/><line x1="491.5" y1="481.63" x2="522.97" y2="469.4" stroke="#86765e" stroke-width="3.31" stroke-opacity="0.29" stroke-linecap="round"/><line x1="577.69" y1="478.68" x2="630.57" y2="461.66" stroke="#686456" stroke-width="2.57" stroke-opacity="0.3" stroke-linecap="round"/><line x1="521.21" y1="310.52" x2="606.5" y2="280.41" stroke="#86765e" stroke-width="4.24" stroke-opacity="0.24" stroke-linecap="round"/><line x1="713.34" y1="359.24" x2="765.34" y2="340" stroke="#86765e" stroke-width="4.18" stroke-opacity="0.2" stroke-linecap="round"/><line x1="519.15" y1="375.05" x2="575.03" y2="354.35" stroke="#746e62" stroke-width="3.89" stroke-opacity="0.3" stroke-linecap="round"/><line x1="522.03" y1="381.46" x2="560.19" y2="368.08" stroke="#686456" stroke-width="2.03" stroke-opacity="0.3" stroke-linecap="round"/><line x1="747.6" y1="353.18" x2="774.48" y2="343.54" stroke="#8c8c84" stroke-width="1.98" stroke-opacity="0.21" stroke-linecap="round"/><line x1="369.83" y1="498.84" x2="430.76" y2="477.4" stroke="#a29a86" stroke-width="3.86" stroke-opacity="0.17" stroke-linecap="round"/><line x1="395.94" y1="471.64" x2="497.36" y2="430.91" stroke="#86765e" stroke-width="3.46" stroke-opacity="0.17" stroke-linecap="round"/><line x1="719.15" y1="389.73" x2="804.69" y2="358.85" stroke="#8c8c84" stroke-width="2.51" stroke-opacity="0.24" stroke-linecap="round"/><line x1="514.19" y1="489.89" x2="567.5" y2="468.77" stroke="#746e62" stroke-width="3.11" stroke-opacity="0.29" stroke-linecap="round"/><line x1="671.58" y1="517.89" x2="731.48" y2="498.28" stroke="#86765e" stroke-width="2.55" stroke-opacity="0.15" stroke-linecap="round"/><line x1="526.31" y1="303.21" x2="590.81" y2="280.25" stroke="#9a9078" stroke-width="3.07" stroke-opacity="0.29" stroke-linecap="round"/><line x1="712.99" y1="389.62" x2="773.73" y2="365.6" stroke="#86765e" stroke-width="1.99" stroke-opacity="0.28" stroke-linecap="round"/><line x1="660.99" y1="363.43" x2="719.08" y2="342.68" stroke="#a29a86" stroke-width="4.41" stroke-opacity="0.16" stroke-linecap="round"/><line x1="495.72" y1="309.85" x2="575.79" y2="283.23" stroke="#686456" stroke-width="4.24" stroke-opacity="0.3" stroke-linecap="round"/><line x1="367.55" y1="405.08" x2="460.59" y2="369.84" stroke="#686456" stroke-width="2.05" stroke-opacity="0.19" stroke-linecap="round"/><line x1="463.58" y1="466.48" x2="539.14" y2="437.2" stroke="#686456" stroke-width="4.18" stroke-opacity="0.23" stroke-linecap="round"/><line x1="760.7" y1="523.71" x2="838.97" y2="498.99" stroke="#8c8c84" stroke-width="2.94" stroke-opacity="0.2" stroke-linecap="round"/><line x1="750.46" y1="517.71" x2="804.54" y2="498.49" stroke="#9a9078" stroke-width="2.95" stroke-opacity="0.19" stroke-linecap="round"/><line x1="381.87" y1="526.36" x2="474.99" y2="491.76" stroke="#8c8c84" stroke-width="3.88" stroke-opacity="0.3" stroke-linecap="round"/><line x1="706.58" y1="295.06" x2="810.14" y2="261.84" stroke="#746e62" stroke-width="4.22" stroke-opacity="0.24" stroke-linecap="round"/></g>
<path d="M449,277 L480.5,277 L449,300.5 Z" fill="#6c0a16"/>
<path d="M480.5,277 L449,300.5" stroke="#1e1e1e" stroke-width="1.6"/>
<path d="M452,392 L466,380 L488,428 L482,436 L458,430 Z" fill="#4e3c32" fill-opacity="0.75" filter="url(#bl)"/>
<path d="M486,432 L780,326 L784,332 L492,440 Z" fill="#5a4a3e" fill-opacity="0.35" filter="url(#bl2)"/>
<path d="M462.5,377.5 L756.7,282 L784.7,303.8 L485.4,405.8 Z" fill="url(#btop)"/>
<path d="M485.4,405.8 L784.7,303.8 L776.5,323.6 L700,357.6 L620,386 L488.5,428.6 Z" fill="url(#bfront)"/>
<path d="M462.5,377.5 L485.4,405.8 L488.5,428.6 L476,404 Z" fill="#9ab8c8"/>
<path d="M462.5,377.5 L476,404 L488.5,428.6" fill="none" stroke="#747c9c" stroke-width="2.2"/>
<path d="M488.5,428.6 L620,386 L700,357.6 L776.5,323.6" fill="none" stroke="#3e3a3c" stroke-width="1.1"/>
<path d="M644,377.4 C644.6,371.6 648.6,369 652.6,369 C656.4,369 659.2,371 660,373.2 Z" fill="#85725e"/>
<path d="M644.4,375.4 C645.6,371.2 649,369.4 652.6,369.4 C656,369.4 658.6,371.2 659.6,373 C657,371.8 655,371.4 652.4,371.5 C649,371.6 646.4,373.2 644.4,375.4 Z" fill="#3a2a22"/>
<path d="M470.6,384.5 L479.2,397" stroke="#4a5878" stroke-width="1.3"/>
<path d="M762.9,288.3 L775.4,296.8" stroke="#4a5878" stroke-width="1.3"/>
<g stroke="#5e6c86" stroke-linecap="butt" fill="none" filter="url(#bl1)">
<path stroke-width="1.4" stroke-opacity="0.75" d="M696.5,335.6 L703.5,333.4 M706,332.6 L718,328.8"/>
<path stroke-width="0.8" stroke-opacity="0.55" stroke-dasharray="5,1.2,3,1.2,6,1.2" d="M727,328 L771,313.6 M744,320.8 L775,310.2 M743.5,323.6 L776,312.6 M744,326.4 L776,315.6 M745,329.2 L775,319"/>
<path stroke-width="0.8" stroke-opacity="0.55" stroke-dasharray="4,1.2,6,1.2,3,1.2" d="M697,339.4 L742,325.2 M696,342.6 L742,328.2 M697,345.4 L735,333"/>
</g>
<path d="M588,437.4 L636,420.4" stroke="#3c3028" stroke-width="3" stroke-opacity="0.45" filter="url(#bl1)"/>
<path d="M587,435.4 L635.2,418.4" stroke="#5a5e6c" stroke-width="3.8" stroke-linecap="round"/>
<path d="M589,434.3 L634,418.3" stroke="#b4bccc" stroke-width="1.4"/>
<path d="M629.5,421.6 L629.5,416.2 M632.5,420.6 L632.5,415.2" stroke="#40444e" stroke-width="0.8" stroke-opacity="0.6"/>
<path d="M635.2,418.4 L714.4,389.6" stroke="#aca8a2" stroke-width="3.6" stroke-opacity="0.5"/>
<path d="M635.4,420.2 L714.6,391.4" stroke="#6a6660" stroke-width="0.8" stroke-opacity="0.55"/>
<path d="M635,416.6 L714.2,387.8" stroke="#6a6660" stroke-width="0.8" stroke-opacity="0.45"/>
<path d="M636,418 L713,390" stroke="#d0ccc4" stroke-width="0.7" stroke-opacity="0.5"/>
<path d="M714.4,389 L772.5,368" stroke="#5c6272" stroke-width="2.8" stroke-linecap="round"/>
<path d="M716,387.8 L772,367.6" stroke="#e6eef6" stroke-width="1.1"/>
<rect x="449" y="277" width="350" height="169" filter="url(#noise2)" style="mix-blend-mode:overlay" opacity="0.12"/>
</g>
</g>
</svg>
</body></html>
